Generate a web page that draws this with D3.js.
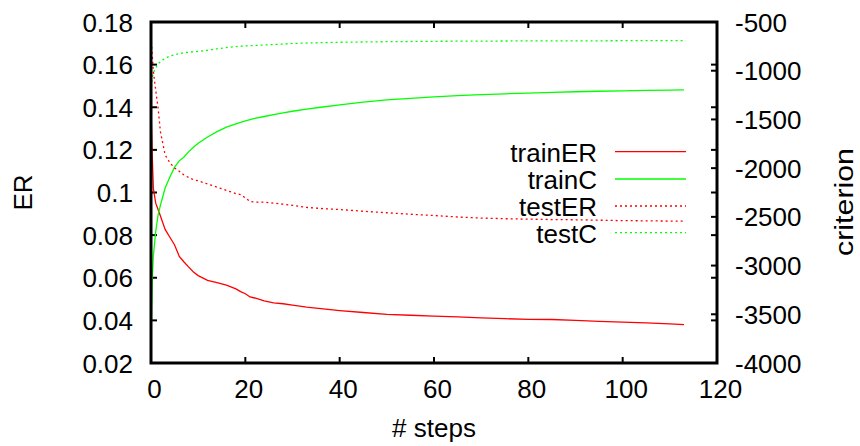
<!DOCTYPE html>
<html><head><meta charset="utf-8">
<script src="https://cdn.jsdelivr.net/npm/d3@7"></script>
<style>body{margin:0;background:#fff}svg{display:block}text{font-family:"Liberation Sans",Arial,sans-serif;font-size:26px;fill:#000}</style>
</head><body>
<script>
const steps = [0,0.25,0.5,1,1.5,2,3,4,5,6,7,8,9,10,12,14,16,18,19,20,21,22,24,26,28,30,33,36,40,45,50,55,60,65,70,75,80,85,90,95,100,105,110,113];
const trainER = [0.140,0.118,0.102,0.095,0.092,0.089,0.0827,0.079,0.0754,0.070,0.0674,0.065,0.0627,0.061,0.0588,0.0577,0.0565,0.0548,0.0535,0.0525,0.051,0.0505,0.0492,0.0482,0.0478,0.0472,0.0462,0.0455,0.0446,0.0437,0.0428,0.0424,0.042,0.0416,0.0412,0.0408,0.0405,0.0404,0.0400,0.0395,0.0392,0.0388,0.0384,0.0380];
const trainC = [-3850,-3166,-2900,-2650,-2481,-2380,-2204,-2090,-1990,-1925,-1886,-1830,-1785,-1745,-1680,-1625,-1580,-1545,-1530,-1515,-1502,-1490,-1470,-1450,-1432,-1416,-1395,-1375,-1350,-1322,-1300,-1283,-1268,-1256,-1246,-1237,-1229,-1222,-1216,-1211,-1206,-1202,-1199,-1197];
const testER = [0.173,0.165,0.1567,0.148,0.1397,0.1285,0.1176,0.114,0.1115,0.110,0.1082,0.107,0.106,0.1055,0.104,0.1025,0.101,0.0995,0.099,0.0975,0.0958,0.0955,0.0955,0.095,0.0945,0.094,0.093,0.0925,0.092,0.0912,0.0905,0.0898,0.0892,0.0885,0.088,0.0877,0.0875,0.0873,0.0872,0.087,0.0868,0.0867,0.0866,0.0866];
const testC = [-1215,-1075,-1020,-972,-930,-907,-873,-850,-835,-825,-815,-810,-806,-802,-790,-775,-762,-752,-749,-746,-743,-741,-736,-731,-726,-720,-716,-712,-708,-705,-702,-700,-698,-697,-696,-695,-694,-694,-693,-693,-692,-692,-691,-691];
const seriesNames = ["trainER","trainC","testER","testC"];
const xTicks = [0,20,40,60,80,100,120];
const yTicks = [0.02,0.04,0.06,0.08,0.1,0.12,0.14,0.16,0.18];
const y2Ticks = [-4000,-3500,-3000,-2500,-2000,-1500,-1000,-500];
const xLabel = "# steps", yLabel = "ER", y2Label = "criterion";

const W = 860, H = 446;
const L = 151, R = 717, T = 22, B = 363;
const svg = d3.select("body").append("svg").attr("width", W).attr("height", H);
const x = d3.scaleLinear().domain([0,120]).range([L,R]);
const y = d3.scaleLinear().domain([0.02,0.18]).range([B,T]);
const y2 = d3.scaleLinear().domain([-4000,-500]).range([B,T]);

const tl = 6;
const g = svg.append("g");
// ticks
xTicks.forEach(v => {
  g.append("line").attr("x1", x(v)).attr("x2", x(v)).attr("y1", B).attr("y2", B - tl).attr("stroke","#000").attr("stroke-width",2);
  g.append("line").attr("x1", x(v)).attr("x2", x(v)).attr("y1", T).attr("y2", T + tl).attr("stroke","#000").attr("stroke-width",2);
  g.append("text").attr("x", x(v) + 3.5).attr("y", 398).attr("text-anchor","middle").text(v);
});
yTicks.forEach(v => {
  g.append("line").attr("x1", L).attr("x2", L + tl).attr("y1", y(v)).attr("y2", y(v)).attr("stroke","#000").attr("stroke-width",2);
  g.append("line").attr("x1", R).attr("x2", R - tl).attr("y1", y(v)).attr("y2", y(v)).attr("stroke","#000").attr("stroke-width",2);
  g.append("text").attr("x", 133).attr("y", y(v) + 9.5).attr("text-anchor","end").text(d3.format("")(+v.toFixed(2)));
});
y2Ticks.forEach(v => {
  g.append("line").attr("x1", R).attr("x2", R - tl).attr("y1", y2(v)).attr("y2", y2(v)).attr("stroke","#000").attr("stroke-width",2);
  g.append("text").attr("x", 735).attr("y", y2(v) + 9.5).attr("text-anchor","start").text(v);
});

// data
const idx = d3.range(steps.length);
const series = [
  {name: seriesNames[0], vals: trainER, sc: y, color: "#ff0000", dash: null},
  {name: seriesNames[1], vals: trainC, sc: y2, color: "#00ff00", dash: null},
  {name: seriesNames[2], vals: testER, sc: y, color: "#ff0000", dash: "2,3"},
  {name: seriesNames[3], vals: testC, sc: y2, color: "#00ff00", dash: "2,3"}
];
series.forEach(s => {
  const line = d3.line().x(i => x(steps[i])).y(i => s.sc(s.vals[i]));
  svg.append("path").attr("d", line(idx)).attr("fill","none").attr("stroke", s.color)
    .attr("stroke-width", 1.3).attr("stroke-dasharray", s.dash);
});

// legend
const legY = [151.7, 179, 206, 232.7];
series.forEach((s, k) => {
  svg.append("text").attr("x", 597).attr("y", legY[k] + 10).attr("text-anchor","end").text(s.name);
  svg.append("line").attr("x1", 615).attr("x2", 686).attr("y1", legY[k]).attr("y2", legY[k])
    .attr("stroke", s.color).attr("stroke-width", 1.3).attr("stroke-dasharray", s.dash);
});

// border
svg.append("rect").attr("x", L).attr("y", T).attr("width", R - L).attr("height", B - T)
  .attr("fill","none").attr("stroke","#000").attr("stroke-width",3);

// axis labels
svg.append("text").attr("x", x(60)).attr("y", 437).attr("text-anchor","middle").text(xLabel);
svg.append("text").attr("transform", `translate(32,${(T+B)/2}) rotate(-90)`).attr("text-anchor","middle").text(yLabel);
svg.append("text").attr("transform", `translate(853,202) rotate(-90)`).attr("text-anchor","middle")
  .attr("textLength", 108).attr("lengthAdjust", "spacingAndGlyphs").text(y2Label);
</script>
</body></html>
